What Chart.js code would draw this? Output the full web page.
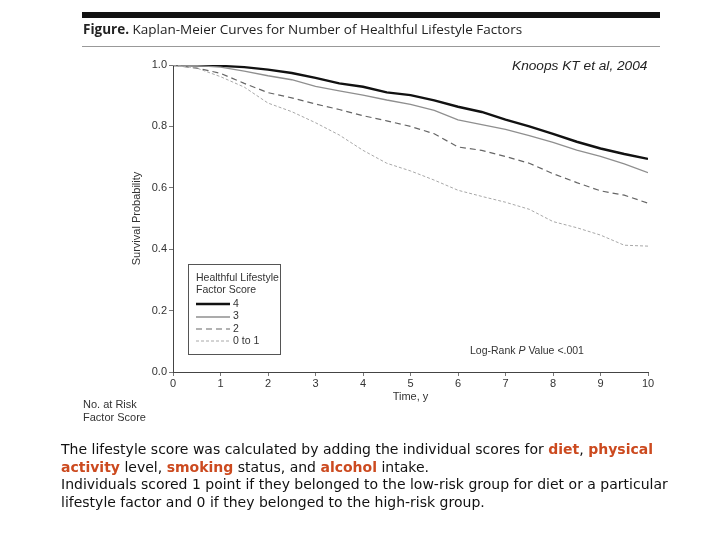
<!DOCTYPE html>
<html>
<head>
<meta charset="utf-8">
<script src="https://cdn.jsdelivr.net/npm/chart.js@4.4.1/dist/chart.umd.min.js"></script>
<style>
  html, body { margin:0; padding:0; background:#fff; }
  body { width:720px; height:540px; position:relative; overflow:hidden; }
  #wrap { position:absolute; left:0; top:0; width:720px; height:540px; }
  .abs { position:absolute; white-space:nowrap; }
  #topbar { left:82px; top:12px; width:578px; height:6px; background:#111; }
  #rule { left:82px; top:46px; width:578px; height:1px; background:#999; }
  #title { left:83px; top:20px; font-family:"Open Sans","Noto Sans",sans-serif; font-size:13.5px; color:#222; }
  #title b { font-weight:700; }
  #cite { left:512px; top:58px; font-family:"Liberation Sans",Arial,sans-serif; font-style:italic; font-size:13.7px; color:#222; }
  #logrank { left:470px; top:344px; font-family:"Liberation Sans",Arial,sans-serif; font-size:10.5px; color:#333; }
  #risk { left:83px; top:398px; font-family:"Liberation Sans",Arial,sans-serif; font-size:11px; color:#333; line-height:13px; }
  #legend { left:188px; top:264px; width:93px; height:91px; border:1px solid #555; box-sizing:border-box;
            font-family:"Liberation Sans",Arial,sans-serif; font-size:10.5px; color:#333; }
  #legend .hd { position:absolute; left:7px; top:6px; line-height:12px; }
  #legend .it { position:absolute; left:7px; height:12px; line-height:12px; }
  #legend svg { vertical-align:middle; margin-right:3px; }
  #foot { left:61px; top:441px; font-family:"DejaVu Sans",Verdana,sans-serif; font-size:14px; color:#111; line-height:17.7px; }
  #foot .k { color:#cc4a1f; font-weight:bold; }
</style>
</head>
<body>
<div id="wrap"><canvas id="c" width="720" height="540"></canvas></div>
<div class="abs" id="topbar"></div>
<div class="abs" id="title"><b>Figure.</b> Kaplan-Meier Curves for Number of Healthful Lifestyle Factors</div>
<div class="abs" id="rule"></div>
<div class="abs" id="cite">Knoops KT et al, 2004</div>
<div class="abs" id="logrank">Log-Rank <i>P</i> Value &lt;.001</div>
<div class="abs" id="risk">No. at Risk<br>Factor Score</div>
<div class="abs" id="legend"></div>
<div class="abs" id="foot">The lifestyle score was calculated by adding the individual scores for <span class="k">diet</span>, <span class="k">physical</span><br><span class="k">activity</span> level, <span class="k">smoking</span> status, and <span class="k">alcohol</span> intake.<br>Individuals scored 1 point if they belonged to the low-risk group for diet or a particular<br>lifestyle factor and 0 if they belonged to the high-risk group.</div>
<script>
// ---- data ----
const timeYears = [0,0.5,1,1.5,2,2.5,3,3.5,4,4.5,5,5.5,6,6.5,7,7.5,8,8.5,9,9.5,10];
const score4 = [1.0,0.999,0.997,0.993,0.985,0.974,0.958,0.940,0.929,0.911,0.902,0.885,0.864,0.847,0.822,0.800,0.776,0.750,0.728,0.710,0.694];
const score3 = [1.0,0.998,0.993,0.980,0.965,0.952,0.930,0.916,0.902,0.886,0.872,0.852,0.821,0.806,0.790,0.770,0.748,0.723,0.702,0.678,0.649];
const score2 = [1.0,0.990,0.973,0.940,0.910,0.893,0.873,0.855,0.835,0.818,0.800,0.776,0.733,0.722,0.702,0.680,0.646,0.617,0.590,0.576,0.550];
const score0to1 = [1.0,0.990,0.962,0.928,0.876,0.848,0.812,0.772,0.722,0.680,0.655,0.625,0.592,0.572,0.553,0.530,0.490,0.470,0.446,0.413,0.410];
const seriesLabels = ["4","3","2","0 to 1"];
const xTicks = [0,1,2,3,4,5,6,7,8,9,10];
const yTicks = [0,0.2,0.4,0.6,0.8,1.0];

const styles = [
  {color:"#111111", width:2.4, dash:[]},
  {color:"#8f8f8f", width:1.3, dash:[]},
  {color:"#666666", width:1.2, dash:[6,4]},
  {color:"#a8a8a8", width:1.0, dash:[3,2]}
];
const seriesValues = [score4, score3, score2, score0to1];

const datasets = seriesValues.map((vals,i)=>({
  label: seriesLabels[i],
  data: timeYears.map((t,j)=>({x:t, y:vals[j]})),
  borderColor: styles[i].color,
  borderWidth: styles[i].width,
  borderDash: styles[i].dash,
  pointRadius: 0,
  tension: 0,
  fill: false
}));
// draw lighter series first, black on top
datasets.reverse();

// legend (HTML)
const lg = document.getElementById('legend');
lg.innerHTML = '<div class="hd">Healthful Lifestyle<br>Factor Score</div>';
seriesLabels.forEach((lab,i)=>{
  const s = styles[i];
  const d = document.createElement('div');
  d.className = 'it';
  d.style.top = (32 + i*12.3) + 'px';
  d.innerHTML = '<svg width="34" height="6"><line x1="0" y1="3" x2="34" y2="3" stroke="'+s.color+'" stroke-width="'+s.width+'" stroke-dasharray="'+(s.dash.length? s.dash.join(','):'none')+'"/></svg>' + lab;
  lg.appendChild(d);
});

const axisFont = {family:"'Liberation Sans', Arial, sans-serif", size:11};
new Chart(document.getElementById('c'), {
  type: 'line',
  data: { datasets },
  options: {
    responsive:false, animation:false, devicePixelRatio:1,
    layout: { padding: { left:130, right:72, top:65, bottom:136 } },
    plugins: { legend:{display:false}, tooltip:{enabled:false} },
    scales: {
      x: {
        type:'linear', min:0, max:10,
        afterBuildTicks: s => { s.ticks = xTicks.map(v=>({value:v})); },
        afterFit: s => { s.height = 32; },
        grid: { display:true, drawOnChartArea:false, drawTicks:true, tickLength:4, color:'#777' },
        border: { display:true, color:'#444', width:1 },
        ticks: { color:'#333', font:axisFont, padding:1, maxRotation:0 },
        title: { display:true, text:'Time, y', color:'#333', font:axisFont, padding:{top:0,bottom:0} }
      },
      y: {
        type:'linear', min:0, max:1,
        afterBuildTicks: s => { s.ticks = yTicks.map(v=>({value:v})); },
        afterFit: s => { s.width = 43; },
        grid: { display:true, drawOnChartArea:false, drawTicks:true, tickLength:4, color:'#777' },
        border: { display:true, color:'#444', width:1 },
        ticks: { color:'#333', font:axisFont, padding:2, callback: v => Number(v).toFixed(1) },
        title: { display:true, text:'Survival Probability', color:'#333', font:axisFont, padding:{top:0,bottom:2} }
      }
    }
  }
});
</script>
</body>
</html>
